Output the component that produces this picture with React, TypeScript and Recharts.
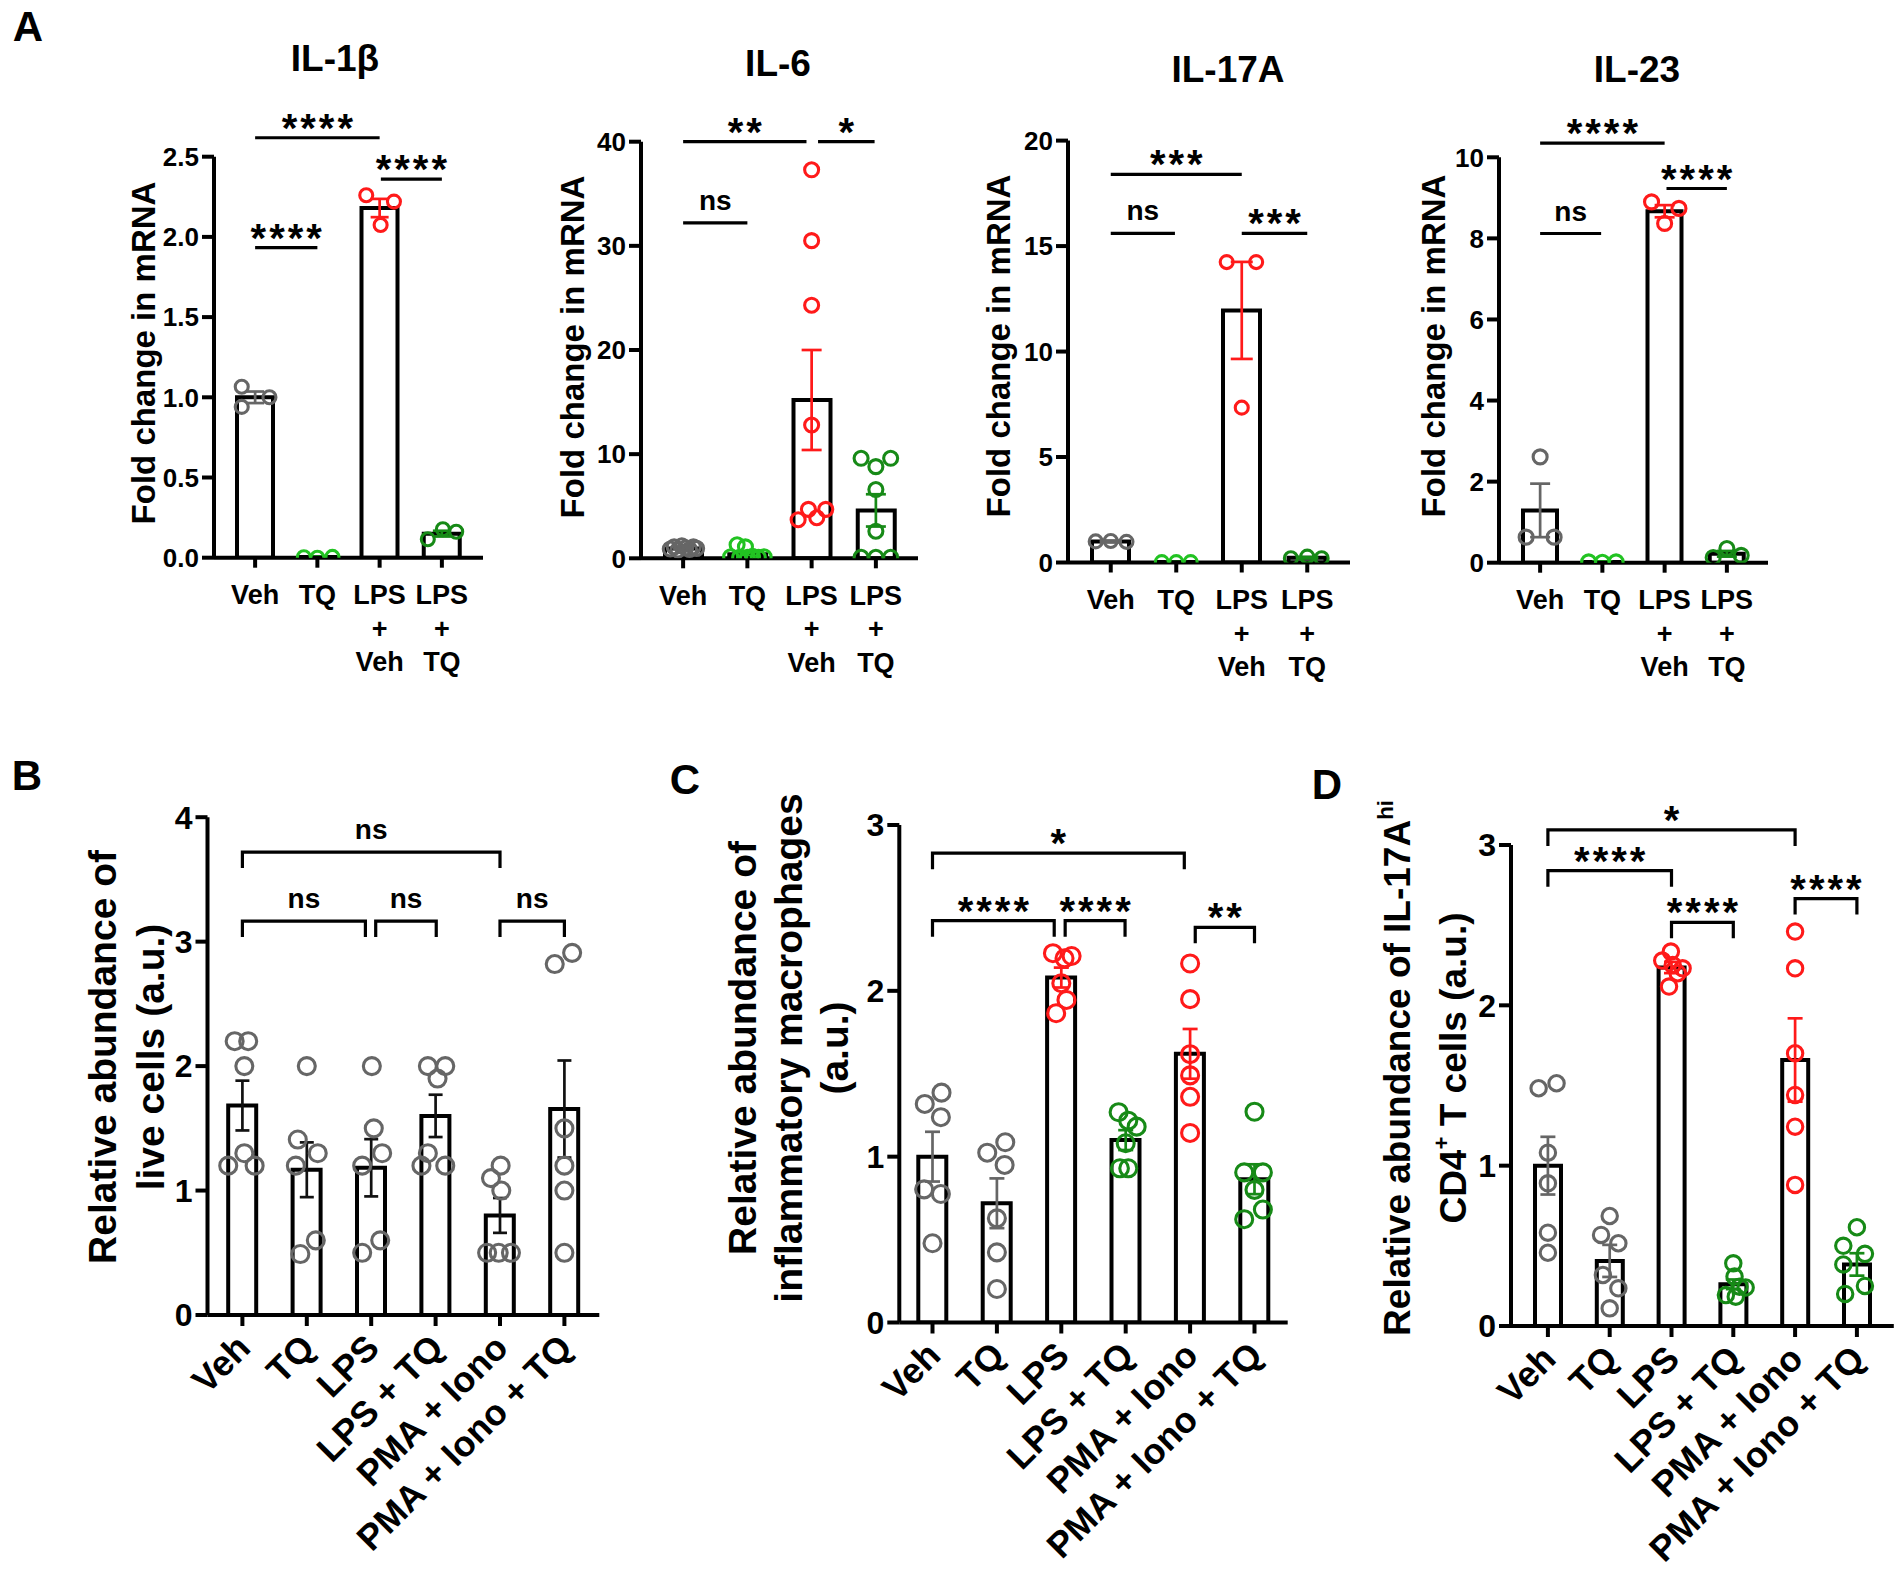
import React from 'react';
import { ComposedChart, Bar, Scatter, XAxis, YAxis, ErrorBar, ReferenceLine } from 'recharts';

const FONT = '"Liberation Sans", Arial, Helvetica, sans-serif';
const GRAY = '#666666';
const LIME = '#22c322';
const RED = '#ff1a1a';
const GREEN = '#178a17';

type Sig = [number, number, number, string];

const mrnaCats = ['Veh', 'TQ', 'LPS\n+\nVeh', 'LPS\n+\nTQ'];
const cellCats = ['Veh', 'TQ', 'LPS', 'LPS + TQ', 'PMA + Iono', 'PMA + Iono + TQ'];

// IL-1β
const il1bMean = [1.0, 0.004, 2.18, 0.15];
const il1bSem = [0.036, 0.003, 0.057, 0.018];
const il1bPts = [[1.066, 0.94, 1.0], [0.003, 0.0, 0.005], [2.26, 2.22, 2.074], [0.115, 0.177, 0.162]];
const il1bJit = [[-0.215, -0.215, 0.23], [-0.217, 0, 0.242], [-0.215, 0.23, 0.016], [-0.226, 0.016, 0.23]];
const il1bSig: Sig[] = [[0, 2, 2.618, '****'], [0, 1, 1.933, '****'], [2.02, 3, 2.36, '****']];

// IL-6
const il6Mean = [0.95, 0.4, 15.2, 4.6];
const il6Sem = [0.05, 0.18, 4.8, 1.55];
const il6Pts = [
  [0.9, 1.1, 0.8, 1.2, 1.0, 0.85, 1.1, 0.95],
  [1.3, 1.1, 0.15, 0.1, 0.1, 0.2, 0.1, 0.15],
  [37.3, 30.5, 24.3, 12.8, 3.7, 4.7, 3.9, 4.7],
  [9.6, 8.8, 9.6, 6.6, 2.6, 0.1, 0.1, 0.1],
];
const il6Jit = [
  [-0.2, -0.14, -0.08, -0.02, 0.04, 0.1, 0.16, 0.21],
  [-0.16, -0.03, -0.26, -0.12, 0.0, 0.08, 0.17, 0.26],
  [0, 0, 0, 0, -0.21, -0.05, 0.08, 0.22],
  [-0.23, 0, 0.23, 0, 0, -0.23, 0, 0.23],
];
const il6Sig: Sig[] = [[0, 1.92, 40, '**'], [2.1, 2.98, 40, '*'], [0, 1, 32.2, 'ns']];

// IL-17A
const il17Mean = [1.0, 0.02, 11.95, 0.23];
const il17Sem = [0.02, 0.01, 2.3, 0.03];
const il17Pts = [[1.0, 1.02, 0.98], [0.02, 0.02, 0.02], [14.24, 14.24, 7.34], [0.2, 0.28, 0.2]];
const il17Jit = [[-0.23, 0, 0.24], [-0.22, 0, 0.22], [-0.23, 0.22, 0], [-0.25, 0, 0.22]];
const il17Sig: Sig[] = [[0, 2, 18.4, '***'], [0, 0.98, 15.6, 'ns'], [2, 3, 15.6, '***']];

// IL-23
const il23Mean = [1.29, 0.02, 8.67, 0.22];
const il23Sem = [0.66, 0.01, 0.15, 0.07];
const il23Pts = [[2.61, 0.63, 0.63], [0.02, 0.01, 0.02], [8.9, 8.74, 8.37], [0.13, 0.35, 0.18]];
const il23Jit = [[0, -0.225, 0.225], [-0.22, 0, 0.22], [-0.21, 0.23, 0], [-0.22, 0, 0.23]];
const il23Sig: Sig[] = [[0, 2, 10.35, '****'], [0, 0.98, 8.12, 'ns'], [2.03, 3, 9.23, '****']];

// B: live cells
const liveMean = [1.683, 1.167, 1.183, 1.6, 0.8, 1.655];
const liveSem = [0.2, 0.22, 0.23, 0.17, 0.14, 0.39];
const livePts = [
  [2.2, 2.2, 2.0, 1.3, 1.2, 1.2],
  [2.0, 1.41, 1.3, 1.2, 0.6, 0.49],
  [2.0, 1.5, 1.3, 1.2, 0.6, 0.5],
  [2.0, 2.0, 1.9, 1.3, 1.2, 1.2],
  [1.2, 1.1, 1.0, 0.5, 0.5, 0.5],
  [2.82, 2.91, 1.5, 1.2, 1.0, 0.5],
];
const liveJit = [
  [-0.12, 0.09, 0.03, 0.03, -0.22, 0.19],
  [0, -0.14, 0.17, -0.17, 0.14, -0.1],
  [0.01, 0.04, 0.17, -0.14, 0.14, -0.14],
  [-0.12, 0.15, 0.03, -0.12, -0.22, 0.15],
  [0.01, -0.14, 0.02, -0.2, -0.02, 0.17],
  [-0.15, 0.12, 0, 0, 0, 0],
];
const liveSig: Sig[] = [[0, 4, 3.72, 'ns'], [0, 1.91, 3.165, 'ns'], [2.07, 3.01, 3.165, 'ns'], [4, 5, 3.165, 'ns']];

// C: inflammatory macrophages
const macMean = [1.0, 0.719, 2.08, 1.1, 1.62, 0.864];
const macSem = [0.15, 0.15, 0.06, 0.06, 0.15, 0.09];
const macPts = [
  [1.318, 1.386, 1.238, 0.803, 0.775, 0.478],
  [1.024, 1.087, 0.95, 0.628, 0.423, 0.202],
  [2.227, 2.196, 2.21, 2.046, 1.945, 1.865],
  [1.268, 1.217, 1.181, 1.081, 0.93, 0.93],
  [2.165, 1.95, 1.618, 1.49, 1.361, 1.143],
  [1.271, 0.905, 0.905, 0.8, 0.681, 0.623],
];
const macJit = [
  [-0.12, 0.14, 0.13, -0.13, 0.13, 0],
  [-0.15, 0.13, 0.12, 0, 0, 0],
  [-0.13, 0.05, 0.16, 0, 0.08, -0.08],
  [-0.11, 0.04, 0.17, 0, -0.09, 0.04],
  [0, 0, 0, 0, 0, 0],
  [0, -0.16, 0.13, 0, 0.13, -0.16],
];
const macSig: Sig[] = [[0, 3.91, 2.83, '*'], [0, 1.89, 2.423, '****'], [2.06, 2.99, 2.423, '****'], [4.08, 5, 2.383, '**']];

// D: IL-17A hi CD4+ T cells
const thMean = [1.0, 0.406, 2.236, 0.26, 1.659, 0.384];
const thSem = [0.18, 0.1, 0.035, 0.03, 0.26, 0.07];
const thPts = [
  [1.483, 1.514, 1.081, 0.89, 0.582, 0.457],
  [0.686, 0.568, 0.516, 0.318, 0.235, 0.11],
  [2.335, 2.279, 2.252, 2.231, 2.2, 2.117],
  [0.391, 0.308, 0.245, 0.24, 0.193, 0.183],
  [2.46, 2.231, 1.701, 1.441, 1.243, 0.88],
  [0.616, 0.5, 0.45, 0.384, 0.25, 0.2],
];
const thJit = [
  [-0.15, 0.14, 0, 0, 0, 0],
  [0, -0.14, 0.14, -0.11, 0.14, 0],
  [-0.01, -0.15, 0.02, 0.18, 0.1, -0.04],
  [0, 0.02, 0.1, 0.2, -0.12, 0.04],
  [0, 0, 0, 0, 0, 0],
  [0, -0.22, 0.13, -0.22, 0.13, -0.19],
];
const thSig: Sig[] = [[0, 4, 3.094, '*'], [0, 2, 2.84, '****'], [2, 3, 2.518, '****'], [4, 5, 2.666, '****']];

const mrnaColors = [GRAY, LIME, RED, GREEN];
const cellColors = [GRAY, GRAY, RED, GREEN, RED, GREEN];
const liveColors = [GRAY, GRAY, GRAY, GRAY, GRAY, GRAY];
const liveErr = ['#111', '#111', '#111', '#111', '#111', '#111'];

const LINE = 4;

const StackTick = (props: any) => {
  const { x, y, payload } = props;
  const lines = String(payload.value).split('\n');
  return (
    <text x={x} y={y} textAnchor="middle" fontFamily={FONT} fontWeight={700} fontSize={27} fill="#000">
      {lines.map((l, i) => (
        <tspan key={i} x={x} dy={i === 0 ? 36.5 : 33.5}>{l}</tspan>
      ))}
    </text>
  );
};

const SlantTick = (props: any) => {
  const { x, y, payload } = props;
  const tx = x + 10;
  const ty = y + 24;
  return (
    <text x={tx} y={ty} transform={`rotate(-45 ${tx} ${ty})`} textAnchor="end" fontFamily={FONT} fontWeight={700} fontSize={36} fill="#000">
      {payload.value}
    </text>
  );
};

const ring = (color: string, r: number) => (props: any) => (
  <circle cx={props.cx} cy={props.cy} r={r} fill="none" stroke={color} strokeWidth={3.1} />
);
const blank = () => <g />;

const sigShape = (label: string, legs: number) => (sp: any) => {
  const { x1, y1, x2 } = sp;
  const d = legs ? `M${x1},${y1 + legs}V${y1}H${x2}V${y1 + legs}` : `M${x1},${y1}H${x2}`;
  const star = label.includes('*');
  const ls = star ? 3 : 0;
  return (
    <g>
      <path d={d} fill="none" stroke="#000" strokeWidth={3.2} />
      <text x={(x1 + x2) / 2 + ls / 2} y={star ? y1 + 4 : y1 - 13} textAnchor="middle" fontFamily={FONT}
        fontWeight={700} fontSize={star ? 40 : 28} fill="#000" style={{ letterSpacing: ls }}>
        {label}
      </text>
    </g>
  );
};

interface PanelProps {
  box: [number, number, number, number];
  axisX: number; plotRight: number; yTop: number; yBottom: number;
  pad: number; barSize: number; domain: [number, number]; ticks: number[]; decimals?: number;
  cats: string[]; means: number[]; sems: number[]; pts: number[][]; jit: number[][];
  colors: string[]; errColors: string[]; sig: Sig[];
  slanted: boolean; r: number; cap: number; yTickSize: number; legs: number;
}

function Panel(p: PanelProps) {
  const [left, top, width, height] = p.box;
  const YW = 90;
  const XH = p.slanted ? 250 : 130;
  const margin = {
    left: p.axisX - left - YW,
    top: p.yTop - top,
    right: left + width - p.plotRight,
    bottom: top + height - p.yBottom - XH,
  };
  const rows = p.cats.map((c, i) => ({ cat: c, mean: p.means[i] }));
  const n = p.cats.length;
  const axisStyle = { stroke: '#000', strokeWidth: LINE };
  return (
    <div style={{ position: 'absolute', left, top, width, height }}>
      <ComposedChart width={width} height={height} data={rows} margin={margin}>
        <XAxis xAxisId="cat" dataKey="cat" type="category" interval={0} padding={{ left: p.pad, right: p.pad }}
          height={XH} tickSize={p.slanted ? 11 : 10} tickMargin={0} axisLine={axisStyle} tickLine={axisStyle}
          tick={p.slanted ? SlantTick : StackTick} />
        <XAxis xAxisId="num" dataKey="x" type="number" domain={[-0.5, n - 0.5]} allowDataOverflow hide
          padding={{ left: p.pad, right: p.pad }} />
        <YAxis yAxisId="y" type="number" domain={p.domain} ticks={p.ticks} interval={0} allowDataOverflow width={YW}
          tickSize={12} tickMargin={3} axisLine={axisStyle} tickLine={axisStyle}
          tick={{ fill: '#000', fontSize: p.yTickSize, fontWeight: 700, fontFamily: FONT }}
          tickFormatter={(v: number) => (p.decimals ? Number(v).toFixed(p.decimals) : String(v))} />
        <Bar xAxisId="cat" yAxisId="y" dataKey="mean" barSize={p.barSize} fill="#fff" stroke="#000"
          strokeWidth={LINE} isAnimationActive={false} />
        {p.pts.map((vals, i) => (
          <Scatter key={'p' + i} xAxisId="num" yAxisId="y" dataKey="y"
            data={vals.map((v, k) => ({ x: i + p.jit[i][k], y: v }))}
            shape={ring(p.colors[i], p.r)} isAnimationActive={false} />
        ))}
        {p.means.map((m, i) => (
          <Scatter key={'e' + i} xAxisId="num" yAxisId="y" dataKey="y" data={[{ x: i, y: m, sem: p.sems[i] }]}
            shape={blank} isAnimationActive={false}>
            <ErrorBar dataKey="sem" direction="y" width={p.cap} stroke={p.errColors[i]} strokeWidth={2.7}
              isAnimationActive={false} />
          </Scatter>
        ))}
        {p.sig.map(([a, b, y, label], i) => (
          <ReferenceLine key={'s' + i} xAxisId="num" yAxisId="y" segment={[{ x: a, y }, { x: b, y }]}
            ifOverflow="visible" shape={sigShape(label, p.legs)} />
        ))}
      </ComposedChart>
    </div>
  );
}

const Txt = ({ x, y, size, rot, lh, children }: any) => (
  <div style={{
    position: 'absolute', left: x, top: y, transform: `translate(-50%, -50%)${rot ? ' rotate(-90deg)' : ''}`,
    fontFamily: FONT, fontWeight: 700, fontSize: size, lineHeight: lh ? `${lh}px` : 1, whiteSpace: 'nowrap',
    textAlign: 'center', color: '#000',
  }}>
    {children}
  </div>
);

const sup = { fontSize: '0.6em', position: 'relative' as const, top: '-0.75em' };

export default function App() {
  const mrna = { cats: mrnaCats, colors: mrnaColors, errColors: mrnaColors, slanted: false, legs: 0, yTickSize: 26, pad: 10 };
  return (
    <div style={{ position: 'absolute', left: 0, top: 0, width: 1900, height: 1575, background: '#fff', overflow: 'hidden' }}>
      <Panel {...mrna} box={[0, 0, 500, 720]} axisX={214} plotRight={483} yTop={156.7} yBottom={557.7}
        barSize={36} domain={[0, 2.5]} ticks={[0, 0.5, 1, 1.5, 2, 2.5]} decimals={1}
        means={il1bMean} sems={il1bSem} pts={il1bPts} jit={il1bJit} sig={il1bSig} r={6.5} cap={9} />
      <Panel {...mrna} box={[500, 0, 440, 720]} axisX={641} plotRight={918} yTop={141.7} yBottom={558.3}
        barSize={37} domain={[0, 40]} ticks={[0, 10, 20, 30, 40]}
        means={il6Mean} sems={il6Sem} pts={il6Pts} jit={il6Jit} sig={il6Sig} r={7} cap={10} />
      <Panel {...mrna} box={[940, 0, 430, 720]} axisX={1068} plotRight={1350} yTop={140.6} yBottom={562.5}
        barSize={37} domain={[0, 20]} ticks={[0, 5, 10, 15, 20]}
        means={il17Mean} sems={il17Sem} pts={il17Pts} jit={il17Jit} sig={il17Sig} r={6.5} cap={11} />
      <Panel {...mrna} box={[1380, 0, 420, 720]} axisX={1499} plotRight={1768} yTop={157.3} yBottom={562.7}
        barSize={34} domain={[0, 10]} ticks={[0, 2, 4, 6, 8, 10]}
        means={il23Mean} sems={il23Sem} pts={il23Pts} jit={il23Jit} sig={il23Sig} r={7} cap={10} />

      <Panel box={[0, 760, 620, 815]} axisX={207.5} plotRight={599.3} yTop={817.2} yBottom={1315} pad={2.7}
        barSize={28} domain={[0, 4]} ticks={[0, 1, 2, 3, 4]} cats={cellCats} colors={liveColors} errColors={liveErr}
        means={liveMean} sems={liveSem} pts={livePts} jit={liveJit} sig={liveSig}
        slanted legs={16} yTickSize={32} r={8.5} cap={7} />
      <Panel box={[640, 760, 660, 815]} axisX={899.3} plotRight={1287.7} yTop={825} yBottom={1322.5} pad={1}
        barSize={28} domain={[0, 3]} ticks={[0, 1, 2, 3]} cats={cellCats} colors={cellColors} errColors={cellColors}
        means={macMean} sems={macSem} pts={macPts} jit={macJit} sig={macSig}
        slanted legs={16} yTickSize={32} r={8.5} cap={7.5} />
      <Panel box={[1300, 760, 600, 815]} axisX={1511} plotRight={1893.8} yTop={845} yBottom={1326} pad={6}
        barSize={26} domain={[0, 3]} ticks={[0, 1, 2, 3]} cats={cellCats} colors={cellColors} errColors={cellColors}
        means={thMean} sems={thSem} pts={thPts} jit={thJit} sig={thSig}
        slanted legs={16} yTickSize={32} r={7.7} cap={7.5} />

      <Txt x={28} y={27} size={42}>A</Txt>
      <Txt x={27} y={776} size={42}>B</Txt>
      <Txt x={685} y={780} size={42}>C</Txt>
      <Txt x={1327} y={785} size={42}>D</Txt>

      <Txt x={335} y={58} size={37}>IL-1β</Txt>
      <Txt x={778} y={63} size={37}>IL-6</Txt>
      <Txt x={1228} y={69} size={37}>IL-17A</Txt>
      <Txt x={1637} y={69} size={37}>IL-23</Txt>

      <Txt x={143} y={353} size={33} rot>Fold change in mRNA</Txt>
      <Txt x={572} y={347} size={33} rot>Fold change in mRNA</Txt>
      <Txt x={998} y={346} size={33} rot>Fold change in mRNA</Txt>
      <Txt x={1433} y={346} size={33} rot>Fold change in mRNA</Txt>

      <Txt x={127} y={1057} size={39} lh={48} rot>
        <div>Relative abundance of</div>
        <div>live cells (a.u.)</div>
      </Txt>
      <Txt x={789} y={1048} size={39} lh={46} rot>
        <div>Relative abundance of</div>
        <div>inflammatory macrophages</div>
        <div>(a.u.)</div>
      </Txt>
      <Txt x={1428} y={1068} size={37} lh={51} rot>
        <div>Relative abundance of IL-17A<span style={sup}>hi</span></div>
        <div>CD4<span style={sup}>+</span> T cells (a.u.)</div>
      </Txt>
    </div>
  );
}
